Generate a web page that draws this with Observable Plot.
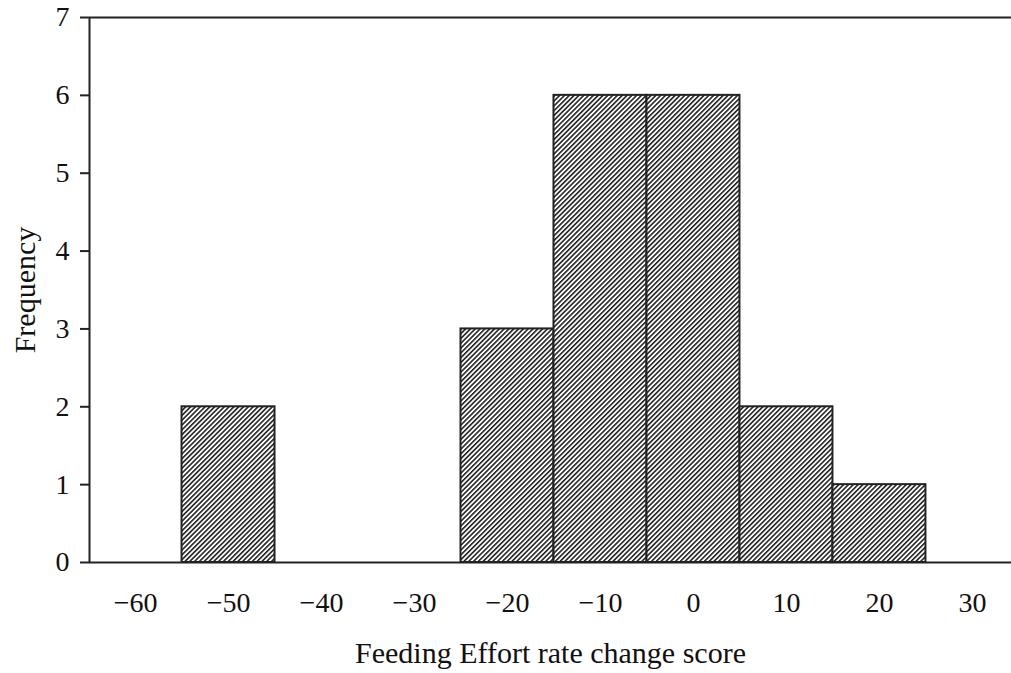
<!DOCTYPE html>
<html>
<head>
<meta charset="utf-8">
<script src="https://cdn.jsdelivr.net/npm/d3@7"></script>
<script src="https://cdn.jsdelivr.net/npm/@observablehq/plot@0.6"></script>
<style>
  html, body { margin: 0; padding: 0; background: #fff; }
  #chart svg { display: block; }
</style>
</head>
<body>
<div id="chart"></div>
<script>
// Histogram bins (lower edge, upper edge) and frequencies
const binStart = [-55, -25, -15, -5, 5, 15];
const binEnd   = [-45, -15, -5, 5, 15, 25];
const frequency = [2, 3, 6, 6, 2, 1];
const xTicks = [-60, -50, -40, -30, -20, -10, 0, 10, 20, 30];
const yTicks = [0, 1, 2, 3, 4, 5, 6, 7];
const xDomain = [-64.95, 34.2];
const yDomain = [0, 7];
const xTitle = "Feeding Effort rate change score";
const yTitle = "Frequency";

const bins = binStart.map((s, i) => ({x1: s, x2: binEnd[i], y: frequency[i]}));
const minusFmt = d => d < 0 ? "\u2212" + Math.abs(d) : String(d);

const chart = Plot.plot({
  width: 1011,
  height: 673,
  marginLeft: 89,
  marginRight: 0,
  marginTop: 17,
  marginBottom: 111,
  style: {fontFamily: "'Liberation Serif', 'Times New Roman', serif", fontSize: "28px", color: "#111", background: "#fff"},
  x: {domain: xDomain},
  y: {domain: yDomain},
  marks: [
    Plot.rectY(bins, {x1: "x1", x2: "x2", y: "y", fill: "url(#hatch)", stroke: "#222", strokeWidth: 2}),
    Plot.ruleY([yDomain[0], yDomain[1]], {stroke: "#222", strokeWidth: 2}),
    Plot.ruleX([xDomain[0]], {stroke: "#222", strokeWidth: 2}),
    Plot.axisY({ticks: yTicks, tickSize: 9, tickPadding: 11, stroke: "#222", strokeWidth: 2, label: null, fontSize: 28, tickFormat: minusFmt, fill: "#111"}),
    Plot.axisX({ticks: xTicks, tickSize: 0, tickPadding: 30, label: null, fontSize: 28, tickFormat: minusFmt, fill: "#111"}),
    Plot.text([xTitle], {frameAnchor: "bottom", dy: 100, fontSize: 30, fill: "#111"}),
    Plot.text([yTitle], {frameAnchor: "left", dx: -64, rotate: -90, textAnchor: "middle", fontSize: 30, fill: "#111"})
  ]
});

// hatch pattern definition
const ns = "http://www.w3.org/2000/svg";
const defs = document.createElementNS(ns, "defs");
const pat = document.createElementNS(ns, "pattern");
pat.setAttribute("id", "hatch");
pat.setAttribute("patternUnits", "userSpaceOnUse");
pat.setAttribute("width", "3.4");
pat.setAttribute("height", "10");
pat.setAttribute("patternTransform", "rotate(45)");
const bg = document.createElementNS(ns, "rect");
bg.setAttribute("width", "3.4"); bg.setAttribute("height", "10"); bg.setAttribute("fill", "#fff");
const ln = document.createElementNS(ns, "line");
ln.setAttribute("x1", "0.8"); ln.setAttribute("y1", "0"); ln.setAttribute("x2", "0.8"); ln.setAttribute("y2", "10");
ln.setAttribute("stroke", "#222"); ln.setAttribute("stroke-width", "1.6");
pat.appendChild(bg); pat.appendChild(ln);
defs.appendChild(pat);
chart.insertBefore(defs, chart.firstChild);

document.getElementById("chart").appendChild(chart);
</script>
</body>
</html>
